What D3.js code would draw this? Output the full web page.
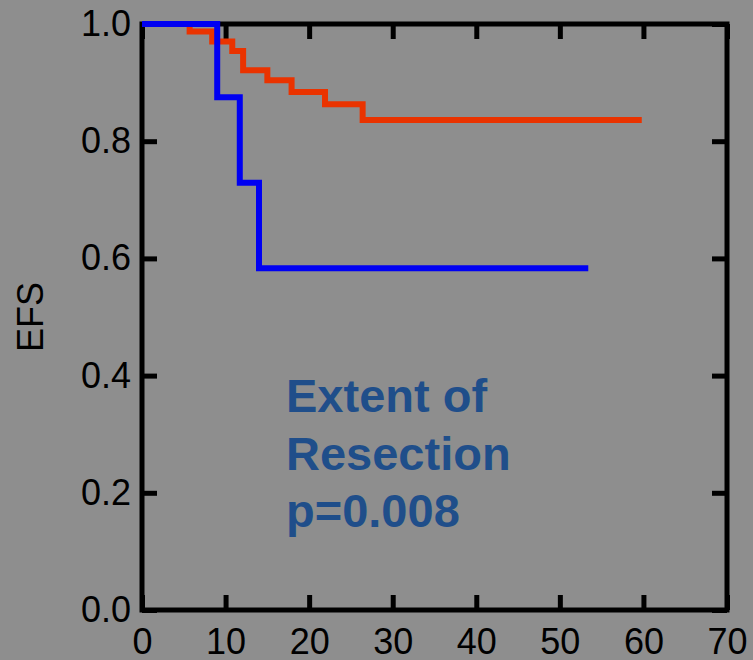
<!DOCTYPE html>
<html>
<head>
<meta charset="utf-8">
<script src="https://cdn.jsdelivr.net/npm/d3@7"></script>
<style>
  html, body { margin: 0; padding: 0; background: #8e8e8e; }
  svg { display: block; }
  text { font-family: "Liberation Sans", Arial, sans-serif; }
</style>
</head>
<body>
<svg id="chart" width="753" height="660"></svg>
<script>
// ---- data ----
const xTicks = [0, 10, 20, 30, 40, 50, 60, 70];
const yTicks = [0.0, 0.2, 0.4, 0.6, 0.8, 1.0];

// Red group (step times in months, survival after each step)
const redTimes = [0, 5.7, 8.4, 10.8, 12.1, 15.0, 17.9, 21.9, 26.4, 59.8];
const redSurv  = [1.0, 0.987, 0.970, 0.954, 0.921, 0.904, 0.884, 0.863, 0.836, 0.836];

// Blue group
const blueTimes = [0, 9.0, 11.7, 14.0, 53.4];
const blueSurv  = [1.0, 0.875, 0.729, 0.583, 0.583];

const yLabel = "EFS";
const noteLines = ["Extent of", "Resection", "p=0.008"];

// ---- layout ----
const svg = d3.select("#chart");
const x = d3.scaleLinear().domain([0, 70]).range([142, 727]);
const y = d3.scaleLinear().domain([0, 1]).range([610, 24]);
const fontSize = 36;

svg.append("rect").attr("width", 753).attr("height", 660).attr("fill", "#8e8e8e");

const axisStyle = g => {
  g.select(".domain").remove();
  g.selectAll(".tick line").attr("stroke", "#000").attr("stroke-width", 5);
  g.selectAll(".tick text").attr("fill", "#000").style("font-size", fontSize + "px");
};

// bottom axis with labels
svg.append("g").attr("transform", `translate(0,${y(0)})`)
  .call(d3.axisBottom(x).tickValues(xTicks).tickSize(-15).tickPadding(18).tickFormat(d3.format("d")))
  .call(axisStyle);
// left axis with labels
svg.append("g").attr("transform", `translate(${x(0)},0)`)
  .call(d3.axisLeft(y).tickValues(yTicks).tickSize(-15).tickPadding(11).tickFormat(d3.format(".1f")))
  .call(axisStyle);
// top axis (ticks only)
svg.append("g").attr("transform", `translate(0,${y(1)})`)
  .call(d3.axisTop(x).tickValues(xTicks).tickSize(-15).tickFormat(""))
  .call(axisStyle);
// right axis (ticks only)
svg.append("g").attr("transform", `translate(${x(70)},0)`)
  .call(d3.axisRight(y).tickValues(yTicks).tickSize(-15).tickFormat(""))
  .call(axisStyle);

svg.selectAll(".tick text").attr("font-family", "Liberation Sans, Arial, sans-serif");

// frame
svg.append("rect")
  .attr("x", x(0)).attr("y", y(1))
  .attr("width", x(70) - x(0)).attr("height", y(0) - y(1))
  .attr("fill", "none").attr("stroke", "#000").attr("stroke-width", 5);

// curves
const line = d3.line().x(d => x(d[0])).y(d => y(d[1])).curve(d3.curveStepAfter);
const redData = redTimes.map((t, i) => [t, redSurv[i]]);
const blueData = blueTimes.map((t, i) => [t, blueSurv[i]]);

svg.append("path").datum(redData).attr("d", line)
  .attr("fill", "none").attr("stroke", "#ea3300").attr("stroke-width", 6);
svg.append("path").datum(blueData).attr("d", line)
  .attr("fill", "none").attr("stroke", "#0000f2").attr("stroke-width", 6);

// y label
svg.append("text")
  .attr("transform", `translate(43,${(y(0) + y(1)) / 2}) rotate(-90)`)
  .attr("text-anchor", "middle")
  .style("font-size", fontSize + "px")
  .attr("fill", "#000")
  .text(yLabel);

// annotation
const note = svg.append("text")
  .attr("x", 286).attr("y", 412)
  .attr("fill", "#1f4e8a")
  .style("font-size", "47px")
  .style("font-weight", "bold");
noteLines.forEach((s, i) => {
  note.append("tspan").attr("x", 286).attr("y", 412 + i * 57.5).text(s);
});
</script>
</body>
</html>
